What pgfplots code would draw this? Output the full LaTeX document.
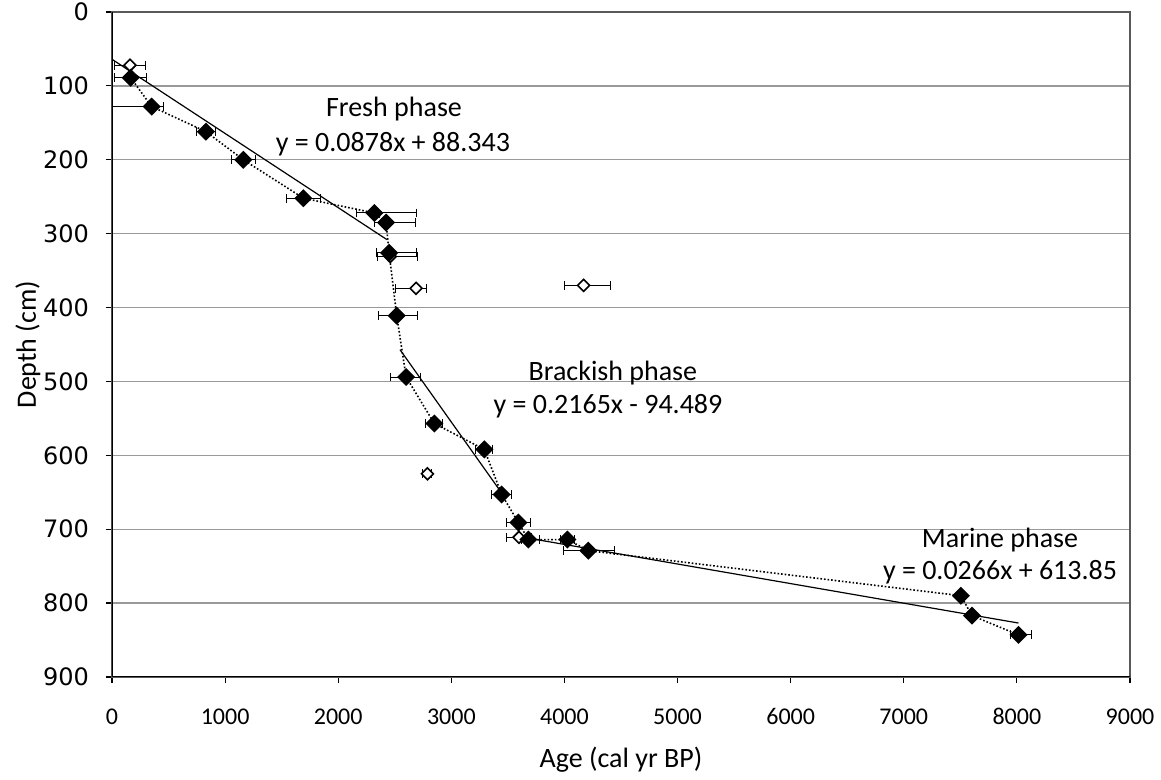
\documentclass[border=0pt]{standalone}
\usepackage{fontspec}
\setmainfont{Carlito}
\newfontfamily\dejavu{DejaVu Sans}
\usepackage{pgfplots}
\pgfplotsset{compat=1.18}
\begin{document}
\begin{tikzpicture}
\begin{axis}[
  name=ax,
  scale only axis, width=509pt, height=332.5pt,
  xmin=0, xmax=9000, ymin=0, ymax=900, y dir=reverse,
  xtick={0,1000,...,9000}, ytick={0,100,...,900},
  /pgf/number format/1000 sep={},
  /pgf/number format/assume math mode=true,
  ymajorgrids, major grid style={draw=black!40, line width=0.7pt},
  axis line style={draw=black!65, line width=0.6pt},
  tick align=outside, tick pos=left,
  major tick length=3pt,
  tick style={black, line width=0.6pt},
  xticklabel style={font=\fontsize{12}{14}\selectfont, text height=8pt, text depth=1pt, yshift=-9pt},
  yticklabel style={font=\dejavu\fontsize{12}{14}\selectfont, xshift=-5pt},
  xlabel={Age (cal yr BP)}, ylabel={Depth (cm)},
  label style={font=\fontsize{14}{16}\selectfont},
  xlabel style={at={(axis description cs:0.5,0)}, anchor=center, yshift=-41.5pt},
  ylabel style={at={(axis description cs:-0.0825,0.5)}, anchor=center},
  error bars/error bar style={solid, black, line width=0.5pt},
  error bars/error mark options={solid, black, line width=0.5pt, mark size=2.2pt, rotate=90},
]
% regression lines
\addplot[black, line width=0.6pt] coordinates {(0,64) (2430,308)};
\addplot[black, line width=0.6pt] coordinates {(2546,457) (3445,651)};
\addplot[black, line width=0.6pt] coordinates {(3600,710) (8014,827)};
% open diamonds
\addplot[only marks, mark=square*, mark size=2.1pt,
  mark options={rotate=45, fill=white, draw=black, line width=0.8pt},
  error bars/.cd, x dir=both, x explicit]
  coordinates {
  (159,72) += (135,0) -= (135,0)
  (2460,331) += (240,0) -= (110,0)
  (2688,374) += (94,0) -= (186,0)
  (4170,370) += (235,0) -= (170,0)
  (2789,625) += (40,0) -= (40,0)
  (3598,711) += (113,0) -= (113,0)
  };
% filled diamonds with dotted connection
\addplot[black, densely dotted, line width=0.8pt, mark=square*, mark size=2.8pt,
  mark options={solid, rotate=45, fill=black, draw=black},
  error bars/.cd, x dir=both, x explicit]
  coordinates {
  (165,89) += (140,0) -= (140,0)
  (351,128) += (100,0) -= (500,0)
  (831,162) += (80,0) -= (80,0)
  (1161,200) += (108,0) -= (108,0)
  (1692,252) += (150,0) -= (150,0)
  (2320,272) += (375,0) -= (160,0)
  (2423,285) += (256,0) -= (100,0)
  (2450,326) += (245,0) -= (110,0)
  (2517,411) += (185,0) -= (160,0)
  (2600,494) += (125,0) -= (135,0)
  (2850,557) += (75,0) -= (75,0)
  (3292,592) += (75,0) -= (75,0)
  (3445,653) += (90,0) -= (90,0)
  (3593,691) += (106,0) -= (106,0)
  (3681,714) += (100,0) -= (60,0)
  (4026,714) += (60,0) -= (60,0)
  (4211,729) += (235,0) -= (220,0)
  (7505,790) += (0,0) -= (0,0)
  (7603,817) += (0,0) -= (0,0)
  (8014,843) += (115,0) -= (70,0)
  };
% annotations
\node[font=\fontsize{14}{16}\selectfont] at (axis cs:2493,132) {Fresh phase};
\node[font=\fontsize{14}{16}\selectfont] at (axis cs:2484,179) {y = 0.0878x + 88.343};
\node[font=\fontsize{14}{16}\selectfont] at (axis cs:4428,488) {Brackish phase};
\node[font=\fontsize{14}{16}\selectfont] at (axis cs:4385,533) {y = 0.2165x - 94.489};
\node[font=\fontsize{14}{16}\selectfont] at (axis cs:7851,714) {Marine phase};
\node[font=\fontsize{14}{16}\selectfont] at (axis cs:7851,758) {y = 0.0266x + 613.85};
\draw[black, line width=1.1pt] (axis description cs:0,1) -- (axis description cs:0,0) -- (axis description cs:1,0);
\end{axis}
\pgfresetboundingbox
\path ([xshift=-56pt,yshift=-51.5pt]ax.south west) rectangle ([xshift=15.5pt,yshift=6pt]ax.north east);
\end{tikzpicture}
\end{document}
